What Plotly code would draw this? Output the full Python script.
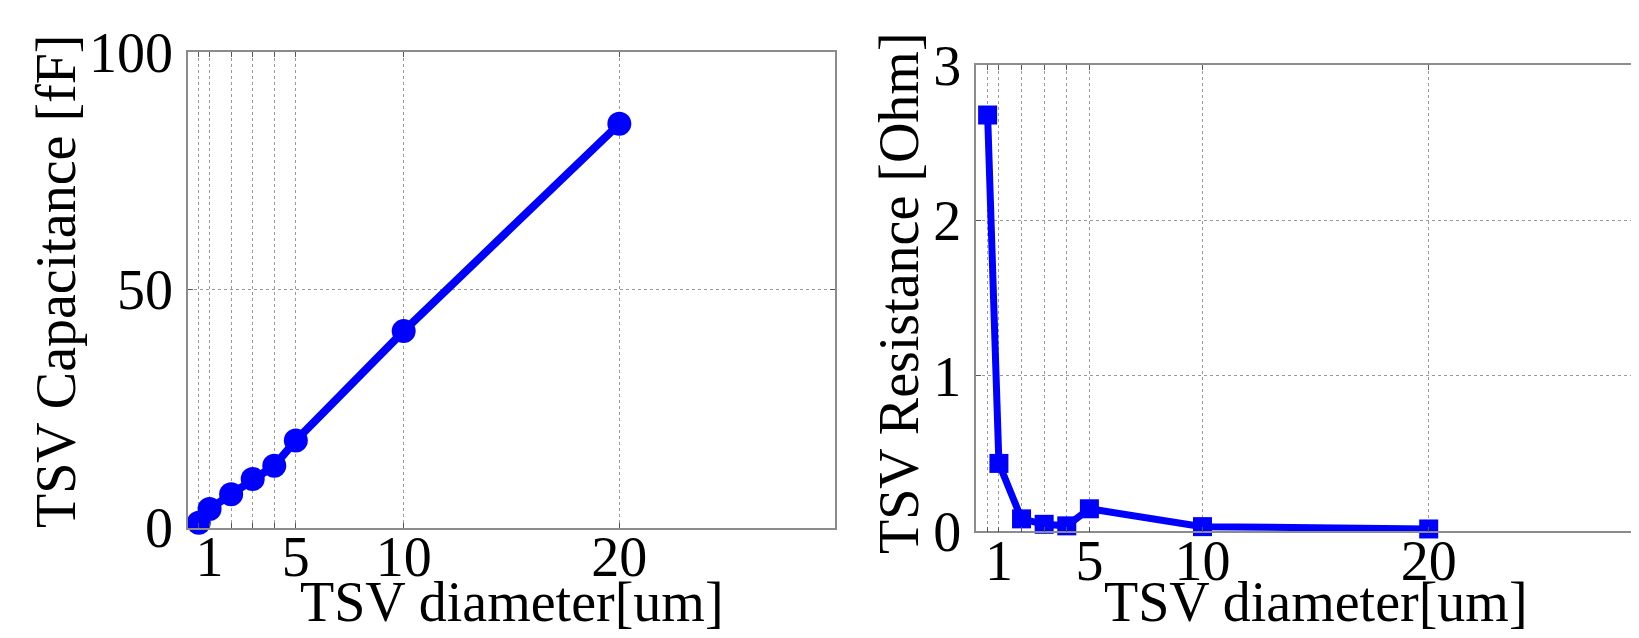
import plotly.graph_objects as go

# ---- data ----
diameter = [0.5, 1, 2, 3, 4, 5, 10, 20]
capacitance = [1.0, 3.9, 7.0, 10.2, 13.0, 18.3, 41.3, 84.9]
resistance = [2.68, 0.437, 0.08, 0.045, 0.035, 0.145, 0.03, 0.015]

x_tickvals = [0.5, 1, 2, 3, 4, 5, 10, 20]
x_ticktext = ["", "1", "", "", "", "5", "10", "20"]
cap_ticks = [0, 50, 100]
res_ticks = [0, 1, 2, 3]

x_title = "TSV diameter[um]"
cap_title = "TSV Capacitance [fF]"
res_title = "TSV Resistance [Ohm]"

W, H = 1639, 638
FONT = "Liberation Serif"
FS = 56
BLUE = "#0000FF"
AXC = "#8c8c8c"
GRIDC = "#9a9a9a"


def px_x(p):
    return p / W


def px_y(p):
    return (H - p) / H


fig = go.Figure()

fig.add_trace(go.Scatter(
    x=diameter, y=capacitance, mode="lines+markers",
    line=dict(color=BLUE, width=8),
    marker=dict(symbol="circle", size=24, color=BLUE),
    xaxis="x", yaxis="y", showlegend=False, cliponaxis=False,
))
fig.add_trace(go.Scatter(
    x=diameter, y=resistance, mode="lines+markers",
    line=dict(color=BLUE, width=7),
    marker=dict(symbol="square", size=19, color=BLUE),
    xaxis="x2", yaxis="y2", showlegend=False, cliponaxis=False,
))

common_axis = dict(
    showline=True, linecolor=AXC, linewidth=1.5,
    ticks="inside", ticklen=5, tickcolor="#555", tickwidth=1,
    showgrid=True, gridcolor=GRIDC, griddash="dot", gridwidth=1,
    zeroline=False, automargin=False,
    tickfont=dict(family=FONT, size=FS, color="black"),
)

fig.update_layout(
    xaxis=dict(common_axis, domain=[px_x(180), px_x(827)], range=[0, 30],
               tickmode="array", tickvals=x_tickvals, ticktext=x_ticktext,
               mirror="ticks", anchor="y", ticklabelstandoff=-20),
    yaxis=dict(common_axis, domain=[px_y(519.5), px_y(44)], range=[0, 100],
               tickmode="array", tickvals=cap_ticks, mirror="ticks",
               anchor="x", ticklabelstandoff=2),
    xaxis2=dict(common_axis, domain=[px_x(968.3), 1.0],
                range=[0, (W - 968.3) / 22.62],
                tickmode="array", tickvals=x_tickvals, ticktext=x_ticktext,
                mirror="ticks", anchor="y2", ticklabelstandoff=-20),
    yaxis2=dict(common_axis, domain=[px_y(523.3), px_y(57.3)], range=[0, 3],
                tickmode="array", tickvals=res_ticks, mirror=False,
                anchor="x2", ticklabelstandoff=2),
)

annotations = [
    dict(text=x_title, x=px_x(503.5), y=px_y(594), xref="paper", yref="paper",
         xanchor="center", yanchor="middle", showarrow=False,
         font=dict(family=FONT, size=FS, color="black")),
    dict(text=x_title, x=px_x(1307.6), y=px_y(594), xref="paper", yref="paper",
         xanchor="center", yanchor="middle", showarrow=False,
         font=dict(family=FONT, size=FS, color="black")),
    dict(text=cap_title, x=px_x(48), y=px_y(274), xref="paper", yref="paper",
         xanchor="center", yanchor="middle", showarrow=False, textangle=-90,
         font=dict(family=FONT, size=FS, color="black")),
    dict(text=res_title, x=px_x(891), y=px_y(285), xref="paper", yref="paper",
         xanchor="center", yanchor="middle", showarrow=False, textangle=-90,
         font=dict(family=FONT, size=FS, color="black")),
]

fig.update_layout(
    width=W, height=H,
    margin=dict(l=0, r=0, t=0, b=0, pad=0, autoexpand=False),
    paper_bgcolor="white", plot_bgcolor="white",
    annotations=annotations,
    font=dict(family=FONT, size=FS, color="black"),
)

fig.write_html("out.html")
